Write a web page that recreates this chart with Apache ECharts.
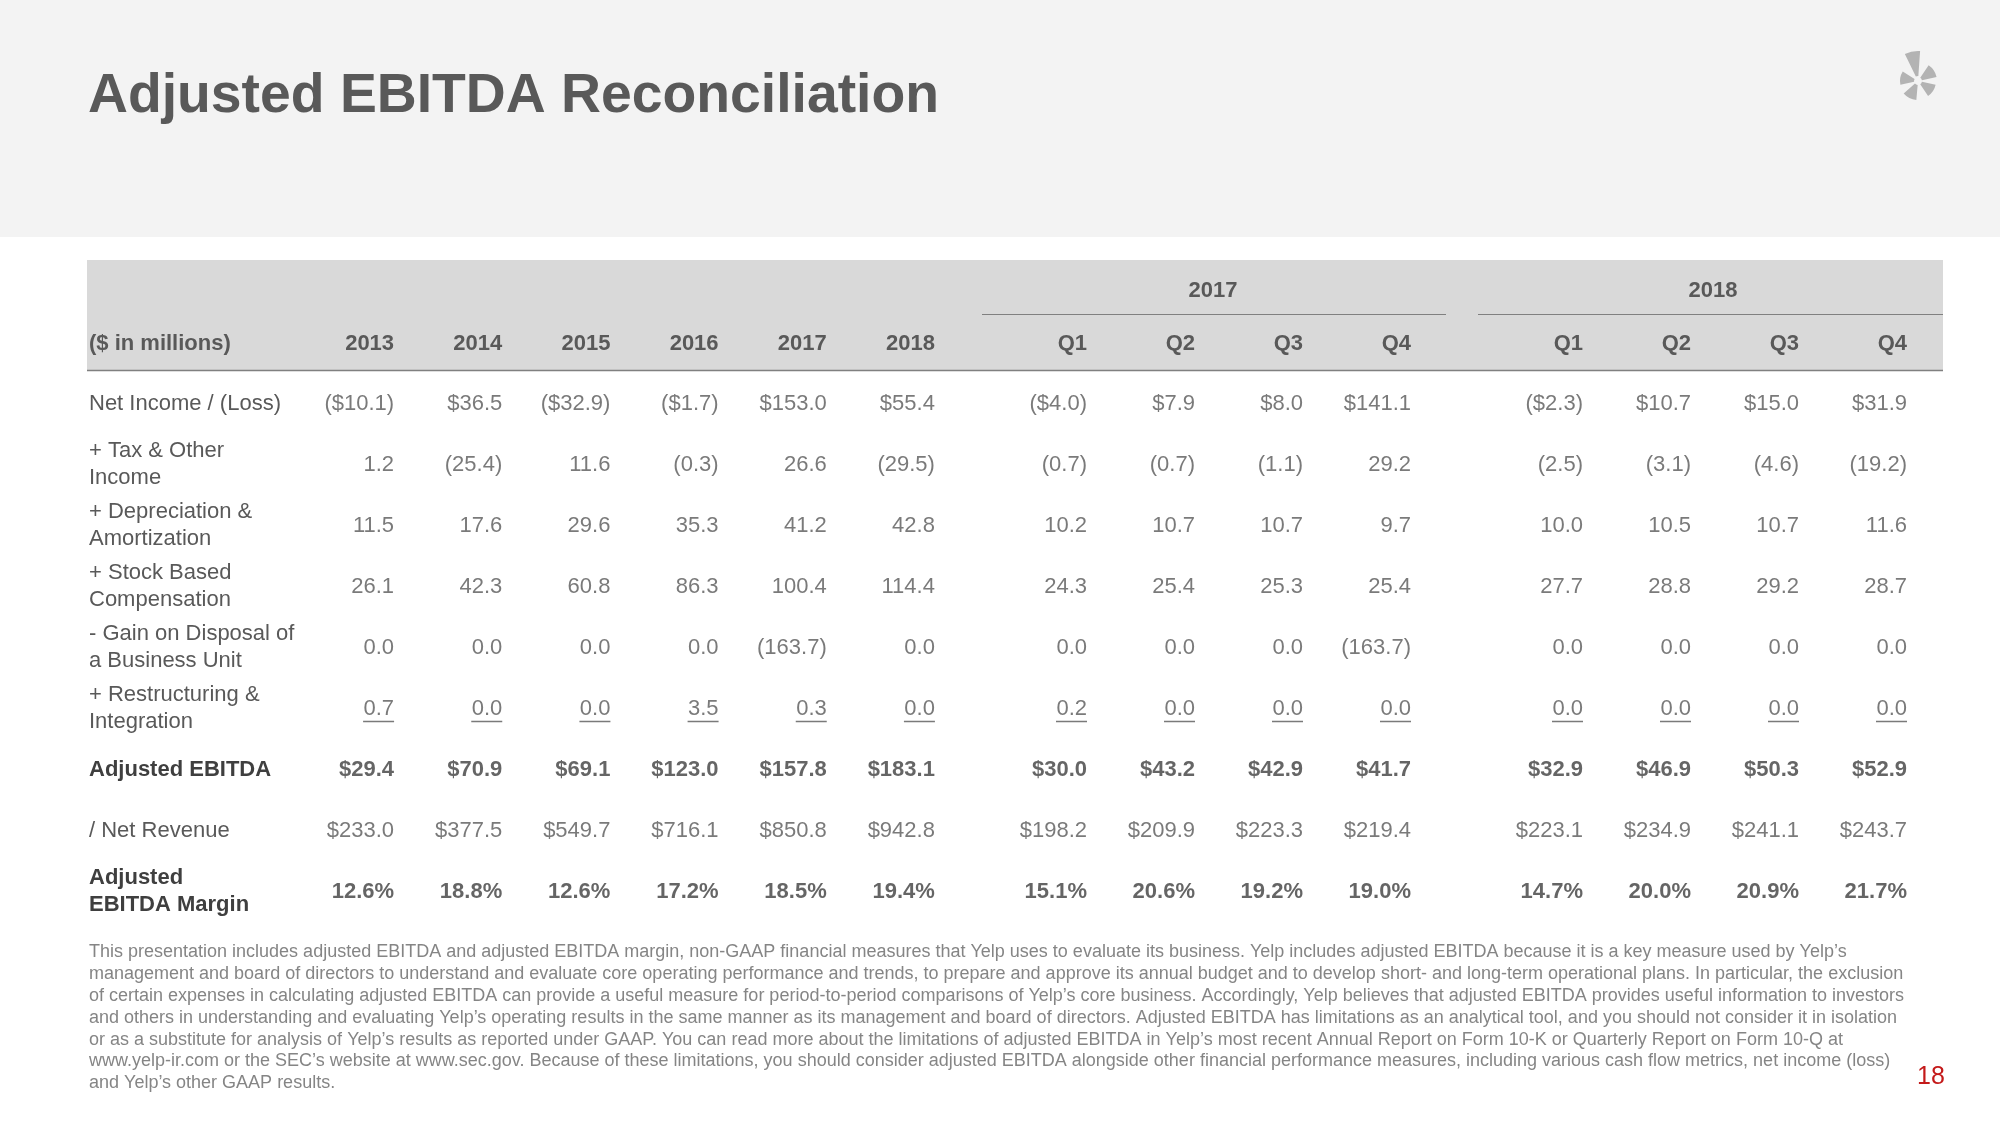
<!DOCTYPE html>
<html>
<head>
<meta charset="utf-8">
<script src="https://cdn.jsdelivr.net/npm/echarts@6/dist/echarts.min.js"></script>
<style>
html,body{margin:0;padding:0;background:#fff;}
#chart{width:2000px;height:1125px;}
</style>
</head>
<body>
<div id="chart"></div>
<script>
// ---------- DATA ----------
const title = 'Adjusted EBITDA Reconciliation';
const unitLabel = '($ in millions)';
const columns = ['2013','2014','2015','2016','2017','2018','Q1','Q2','Q3','Q4','Q1','Q2','Q3','Q4'];
const groupLabels = ['2017','2018'];
const rowLabels = [
  'Net Income / (Loss)',
  '+ Tax & Other\nIncome',
  '+ Depreciation &\nAmortization',
  '+ Stock Based\nCompensation',
  '- Gain on Disposal of\na Business Unit',
  '+ Restructuring &\nIntegration',
  'Adjusted EBITDA',
  '/ Net Revenue',
  'Adjusted\nEBITDA Margin'
];
const netIncome     = [-10.1, 36.5, -32.9, -1.7, 153.0, 55.4, -4.0, 7.9, 8.0, 141.1, -2.3, 10.7, 15.0, 31.9];
const taxOther      = [1.2, -25.4, 11.6, -0.3, 26.6, -29.5, -0.7, -0.7, -1.1, 29.2, -2.5, -3.1, -4.6, -19.2];
const deprAmort     = [11.5, 17.6, 29.6, 35.3, 41.2, 42.8, 10.2, 10.7, 10.7, 9.7, 10.0, 10.5, 10.7, 11.6];
const stockComp     = [26.1, 42.3, 60.8, 86.3, 100.4, 114.4, 24.3, 25.4, 25.3, 25.4, 27.7, 28.8, 29.2, 28.7];
const gainDisposal  = [0.0, 0.0, 0.0, 0.0, -163.7, 0.0, 0.0, 0.0, 0.0, -163.7, 0.0, 0.0, 0.0, 0.0];
const restructuring = [0.7, 0.0, 0.0, 3.5, 0.3, 0.0, 0.2, 0.0, 0.0, 0.0, 0.0, 0.0, 0.0, 0.0];
const adjEbitda     = [29.4, 70.9, 69.1, 123.0, 157.8, 183.1, 30.0, 43.2, 42.9, 41.7, 32.9, 46.9, 50.3, 52.9];
const netRevenue    = [233.0, 377.5, 549.7, 716.1, 850.8, 942.8, 198.2, 209.9, 223.3, 219.4, 223.1, 234.9, 241.1, 243.7];
const ebitdaMargin  = [12.6, 18.8, 12.6, 17.2, 18.5, 19.4, 15.1, 20.6, 19.2, 19.0, 14.7, 20.0, 20.9, 21.7];
const footnote = [
  'This presentation includes adjusted EBITDA and adjusted EBITDA margin, non-GAAP financial measures that Yelp uses to evaluate its business. Yelp includes adjusted EBITDA because it is a key measure used by Yelp\u2019s',
  'management and board of directors to understand and evaluate core operating performance and trends, to prepare and approve its annual budget and to develop short- and long-term operational plans. In particular, the exclusion',
  'of certain expenses in calculating adjusted EBITDA can provide a useful measure for period-to-period comparisons of Yelp\u2019s core business. Accordingly, Yelp believes that adjusted EBITDA provides useful information to investors',
  'and others in understanding and evaluating Yelp\u2019s operating results in the same manner as its management and board of directors. Adjusted EBITDA has limitations as an analytical tool, and you should not consider it in isolation',
  'or as a substitute for analysis of Yelp\u2019s results as reported under GAAP. You can read more about the limitations of adjusted EBITDA in Yelp\u2019s most recent Annual Report on Form 10-K or Quarterly Report on Form 10-Q at',
  'www.yelp-ir.com or the SEC\u2019s website at www.sec.gov. Because of these limitations, you should consider adjusted EBITDA alongside other financial performance measures, including various cash flow metrics, net income (loss)',
  'and Yelp\u2019s other GAAP results.'
];
const pageNumber = '18';

// ---------- STRUCTURE / STYLE ----------
const rows = [netIncome, taxOther, deprAmort, stockComp, gainDisposal, restructuring, adjEbitda, netRevenue, ebitdaMargin];
const rowKind = ['dollar','plain','plain','plain','plain','plain','dollar','dollar','pct'];
const boldRows = [6, 8];
const underlineRow = 5;
const groupRanges = [[0,6],[6,10],[10,14]];

const FONT = "'Liberation Sans', Arial, Helvetica, sans-serif";
const TXT = '#595959';
const BOLD = '#3f3f3f';
const FS = 22;

function fmt(v, kind) {
  const a = Math.abs(v).toFixed(1);
  let s = a;
  if (kind === 'dollar') s = '$' + a;
  if (kind === 'pct') s = a + '%';
  return v < 0 ? '(' + s + ')' : s;
}

function fitSize(text, weight, target, base) {
  const c = document.createElement('canvas').getContext('2d');
  c.font = weight + ' ' + base + 'px ' + FONT;
  const w = c.measureText(text).width;
  return base * target / w;
}

const gridDefs = [
  {left: 340, width: 649},
  {left: 1033, width: 432},
  {left: 1529, width: 432}
];
const TOP = 373, ROWH = 61;

const grids = [], xAxes = [], yAxes = [], series = [];
groupRanges.forEach((rg, g) => {
  grids.push({left: gridDefs[g].left, width: gridDefs[g].width, top: TOP, height: ROWH * rows.length, containLabel: false});
  xAxes.push({
    type: 'category', gridIndex: g, position: 'top',
    data: columns.slice(rg[0], rg[1]),
    axisLine: {show: false}, axisTick: {show: false}, splitLine: {show: false},
    axisLabel: {interval: 0, align: 'right', margin: 18, fontFamily: FONT, fontSize: FS, fontWeight: 'bold', color: TXT}
  });
  yAxes.push({
    type: 'category', gridIndex: g, inverse: true,
    data: rowLabels,
    show: g === 0,
    axisLine: {show: false}, axisTick: {show: false}, splitLine: {show: false},
    axisLabel: {
      interval: 0, align: 'left', margin: 251, fontFamily: FONT, fontSize: FS, color: TXT, lineHeight: 27,
      formatter: (val, idx) => boldRows.indexOf(idx) >= 0 ? val.split('\n').map(s => '{b|' + s + '}').join('\n') : val,
      rich: {b: {fontFamily: FONT, fontSize: FS, fontWeight: 'bold', color: BOLD, lineHeight: 27}}
    }
  });
  const data = [];
  rows.forEach((row, r) => {
    for (let c = rg[0]; c < rg[1]; c++) {
      const item = {value: [c - rg[0], r, row[c]]};
      if (boldRows.indexOf(r) >= 0) item.label = {fontWeight: 'bold', color: BOLD};
      data.push(item);
    }
  });
  series.push({
    type: 'scatter', xAxisIndex: g, yAxisIndex: g, symbolSize: 1,
    itemStyle: {color: 'rgba(0,0,0,0)'},
    silent: true,
    label: {
      show: true, position: 'inside', align: 'right', verticalAlign: 'middle',
      fontFamily: FONT, fontSize: FS, color: TXT, textBorderWidth: 0,
      formatter: p => fmt(p.value[2], rowKind[p.value[1]])
    },
    data: data
  });
  const ul = [];
  for (let c = rg[0]; c < rg[1]; c++) ul.push([c - rg[0], underlineRow, restructuring[c]]);
  series.push({
    type: 'scatter', xAxisIndex: g, yAxisIndex: g, symbol: 'rect',
    symbolSize: [31, 1.5], symbolOffset: [-15.5, 13], silent: true,
    itemStyle: {color: TXT}, data: ul
  });
});

const titleSize = Math.max(48, Math.min(60, fitSize(title, 'bold', 851, 50)));
const noteSize = Math.max(14, Math.min(18, fitSize(footnote[2], 'normal', 1822, 16)));

const graphic = [
  {type: 'rect', z: -10, shape: {x: 0, y: 0, width: 2000, height: 237}, style: {fill: '#f3f3f3'}},
  {type: 'text', x: 88, y: 96.5, style: {text: title, font: 'bold ' + titleSize.toFixed(1) + 'px ' + FONT, fill: TXT, verticalAlign: 'middle'}},
  {type: 'rect', z: -10, shape: {x: 87, y: 260, width: 1856, height: 110}, style: {fill: '#d9d9d9'}},
  {type: 'line', shape: {x1: 87, y1: 370.5, x2: 1943, y2: 370.5}, style: {stroke: '#808080', lineWidth: 1.5}},
  {type: 'line', shape: {x1: 982, y1: 314.5, x2: 1446, y2: 314.5}, style: {stroke: '#808080', lineWidth: 1}},
  {type: 'line', shape: {x1: 1478, y1: 314.5, x2: 1943, y2: 314.5}, style: {stroke: '#808080', lineWidth: 1}},
  {type: 'text', x: 1213, y: 290.5, style: {text: groupLabels[0], font: 'bold 22px ' + FONT, fill: TXT, align: 'center', verticalAlign: 'middle'}},
  {type: 'text', x: 1713, y: 290.5, style: {text: groupLabels[1], font: 'bold 22px ' + FONT, fill: TXT, align: 'center', verticalAlign: 'middle'}},
  {type: 'text', x: 89, y: 343.5, style: {text: unitLabel, font: 'bold 22px ' + FONT, fill: TXT, verticalAlign: 'middle'}},
  {type: 'text', x: 1931, y: 1077, style: {text: pageNumber, font: '25px ' + FONT, fill: '#c41a1a', align: 'center', verticalAlign: 'middle'}}
];
footnote.forEach((line, i) => {
  graphic.push({type: 'text', x: 89, y: 952.5 + i * 21.8, style: {text: line, font: noteSize.toFixed(2) + 'px ' + FONT, fill: '#858585', verticalAlign: 'middle'}});
});
// logo burst
const D = Math.PI / 180, LX = 1918, LY = 81;
[[-101, 15, 5, 30], [-170, 22, 4, 18], [117, 22, 4, 19], [-34, 22, 4, 19], [34, 22, 4, 18]].forEach(p => {
  graphic.push({type: 'sector', shape: {cx: LX, cy: LY, r0: p[2], r: p[3], startAngle: (p[0] - p[1]) * D, endAngle: (p[0] + p[1]) * D}, style: {fill: '#b3b3b3'}});
});

const chart = echarts.init(document.getElementById('chart'));
chart.setOption({
  animation: false,
  backgroundColor: '#ffffff',
  grid: grids,
  xAxis: xAxes,
  yAxis: yAxes,
  series: series,
  graphic: graphic
});
</script>
</body>
</html>
